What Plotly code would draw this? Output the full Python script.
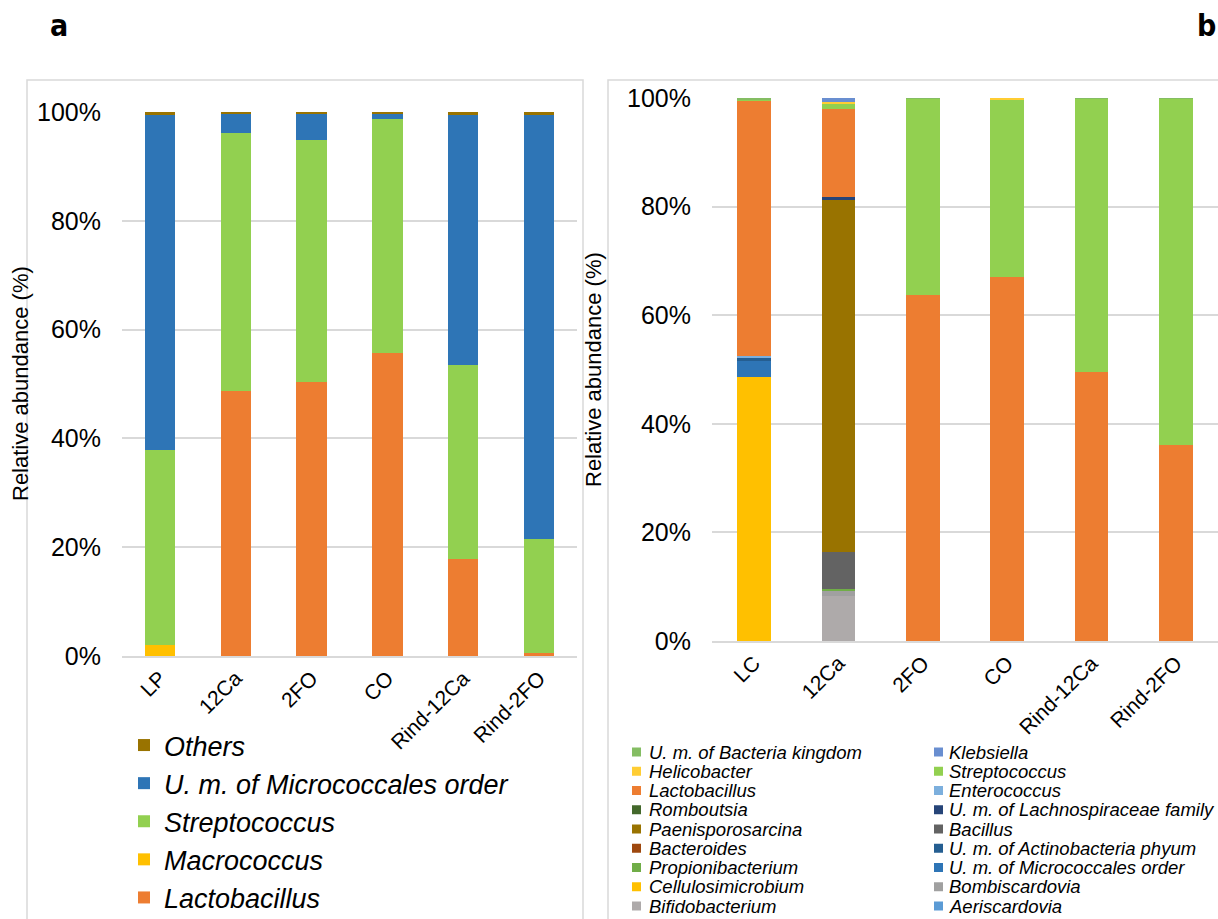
import plotly.graph_objects as go

W, H = 1218, 919
FONT = "Liberation Sans, Arial, sans-serif"

# ---------------- panel a data (relative abundance, %) ----------------
samples_a = ["LP", "12Ca", "2FO", "CO", "Rind-12Ca", "Rind-2FO"]
lactobacillus_a = [0.0, 48.7, 50.4, 55.7, 17.8, 0.6]
macrococcus_a = [2.0, 0.0, 0.0, 0.0, 0.0, 0.0]
streptococcus_a = [35.9, 47.4, 44.4, 43.0, 35.7, 21.0]
micrococcales_a = [61.5, 3.5, 4.8, 0.9, 45.9, 77.9]
others_a = [0.6, 0.4, 0.4, 0.4, 0.6, 0.5]

# ---------------- panel b data (relative abundance, %) ----------------
samples_b = ["LC", "12Ca", "2FO", "CO", "Rind-12Ca", "Rind-2FO"]
aeriscardovia = [0, 0, 0, 0, 0, 0]
bifidobacterium = [0, 8.3, 0, 0, 0, 0]
bombiscardovia = [0, 1.0, 0, 0, 0, 0]
cellulosimicrobium = [48.6, 0, 0, 0, 0, 0]
micrococcales_b = [3.0, 0, 0, 0, 0, 0]
propionibacterium = [0, 0.2, 0, 0, 0, 0]
actinobacteria = [0.7, 0, 0, 0, 0, 0]
bacteroides = [0, 0, 0, 0, 0, 0]
bacillus = [0, 6.9, 0, 0, 0, 0]
paenisporosarcina = [0, 64.9, 0, 0, 0, 0]
lachnospiraceae = [0, 0.4, 0, 0, 0, 0]
romboutsia = [0, 0, 0, 0, 0, 0]
enterococcus = [0.2, 0, 0, 0, 0, 0]
lactobacillus_b = [47.0, 16.2, 63.7, 67.0, 49.5, 36.1]
streptococcus_b = [0.3, 1.0, 36.2, 32.8, 50.4, 63.8]
helicobacter = [0, 0.4, 0, 0.2, 0, 0]
klebsiella = [0, 0.7, 0, 0, 0, 0]
bacteria_kingdom = [0.2, 0, 0.1, 0, 0.1, 0.1]

# stacking order, bottom to top
series_a = [
    ("Lactobacillus", lactobacillus_a, "#ED7D31"),
    ("Macrococcus", macrococcus_a, "#FFC000"),
    ("Streptococcus", streptococcus_a, "#92D050"),
    ("U. m. of Micrococcales order", micrococcales_a, "#2E75B6"),
    ("Others", others_a, "#997300"),
]

series_b = [
    ("Aeriscardovia", aeriscardovia, "#5B9BD5"),
    ("Bifidobacterium", bifidobacterium, "#AEAAAA"),
    ("Bombiscardovia", bombiscardovia, "#A0A0A0"),
    ("Cellulosimicrobium", cellulosimicrobium, "#FFC000"),
    ("U. m. of Micrococcales order", micrococcales_b, "#2E75B6"),
    ("Propionibacterium", propionibacterium, "#70AD47"),
    ("U. m. of Actinobacteria phyum", actinobacteria, "#255E91"),
    ("Bacteroides", bacteroides, "#9E480E"),
    ("Bacillus", bacillus, "#636363"),
    ("Paenisporosarcina", paenisporosarcina, "#997300"),
    ("U. m. of Lachnospiraceae family", lachnospiraceae, "#264478"),
    ("Romboutsia", romboutsia, "#43682B"),
    ("Enterococcus", enterococcus, "#7CAFDD"),
    ("Lactobacillus", lactobacillus_b, "#ED7D31"),
    ("Streptococcus", streptococcus_b, "#92D050"),
    ("Helicobacter", helicobacter, "#FFCD33"),
    ("Klebsiella", klebsiella, "#698ED0"),
    ("U. m. of Bacteria kingdom", bacteria_kingdom, "#84BD63"),
]

fig = go.Figure()

for name, vals, color in series_a:
    fig.add_trace(go.Bar(
        x=samples_a, y=vals, name=name, marker=dict(color=color, line=dict(width=0)),
        xaxis="x", yaxis="y", legend="legend",
    ))

for name, vals, color in series_b:
    fig.add_trace(go.Bar(
        x=samples_b, y=vals, name=name, marker=dict(color=color, line=dict(width=0)),
        xaxis="x2", yaxis="y2", showlegend=False,
    ))


def px_x(p):
    return p / W


def px_y(p):
    return 1 - p / H


grid = "#D9D9D9"
tick_font = dict(family=FONT, size=25, color="#000000")
xtick_font = dict(family=FONT, size=21, color="#000000")

axis_common_y = dict(
    range=[0, 100], dtick=20, ticksuffix="%", showgrid=True, gridcolor=grid,
    gridwidth=1.5, zeroline=False, showline=False, tickfont=tick_font,
    ticklabelstandoff=20, fixedrange=True,
)
axis_common_x = dict(
    type="category", range=[-0.5, 5.5], showline=True, linecolor=grid, linewidth=1.5,
    showgrid=False, tickangle=-45, tickfont=xtick_font, ticks="",
)

fig.update_layout(
    width=W, height=H,
    margin=dict(l=0, r=0, t=0, b=0, autoexpand=False),
    paper_bgcolor="white", plot_bgcolor="white",
    barmode="stack", bargap=0.6,
    font=dict(family=FONT, color="#000000"),
    xaxis=dict(domain=[px_x(122), px_x(577)], anchor="y", **axis_common_x),
    yaxis=dict(domain=[px_y(656), px_y(112)], anchor="x", **axis_common_y),
    xaxis2=dict(domain=[px_x(712), 1.0], anchor="y2", **axis_common_x),
    yaxis2=dict(domain=[px_y(641), px_y(98)], anchor="x2", **axis_common_y),
    legend=dict(
        x=px_x(124), y=px_y(721), xanchor="left", yanchor="top",
        traceorder="reversed", bgcolor="rgba(0,0,0,0)",
        font=dict(family=FONT, size=27, style="italic", color="#000000"),
    ),
)

shapes = [
    # chart-area frames
    dict(type="rect", xref="paper", yref="paper", x0=px_x(27), x1=px_x(583),
         y0=-0.02, y1=px_y(80), line=dict(color=grid, width=1.5), layer="below"),
    dict(type="rect", xref="paper", yref="paper", x0=px_x(608), x1=1.02,
         y0=-0.02, y1=px_y(80), line=dict(color=grid, width=1.5), layer="below"),
]

annotations = [
    dict(text="<b>a</b>", x=px_x(48), y=px_y(25), xref="paper", yref="paper",
         xanchor="left", yanchor="middle", showarrow=False,
         font=dict(family="Liberation Sans Narrow, DejaVu Sans Condensed, sans-serif", size=30)),
    dict(text="<b>b</b>", x=px_x(1195), y=px_y(25), xref="paper", yref="paper",
         xanchor="left", yanchor="middle", showarrow=False,
         font=dict(family="Liberation Sans Narrow, DejaVu Sans Condensed, sans-serif", size=30)),
    dict(text="Relative abundance (%)", x=px_x(20), y=px_y(384), xref="paper", yref="paper",
         textangle=-90, showarrow=False, xanchor="center", yanchor="middle",
         font=dict(family=FONT, size=22)),
    dict(text="Relative abundance (%)", x=px_x(593), y=px_y(370), xref="paper", yref="paper",
         textangle=-90, showarrow=False, xanchor="center", yanchor="middle",
         font=dict(family=FONT, size=22)),
]

# two-column key for panel b, listed top of stack first, filled row by row
key_entries = list(reversed(series_b))
col_square_x = [632, 934]
col_text_x = [647, 947]
row_y0, row_step = 752, 19.25
for i, (name, _, color) in enumerate(key_entries):
    col, row = i % 2, i // 2
    yc = row_y0 + row * row_step
    shapes.append(dict(
        type="rect", xref="paper", yref="paper",
        x0=px_x(col_square_x[col]), x1=px_x(col_square_x[col] + 9),
        y0=px_y(yc + 4.5), y1=px_y(yc - 4.5),
        fillcolor=color, line=dict(width=0),
    ))
    annotations.append(dict(
        text=name, x=px_x(col_text_x[col]), y=px_y(yc), xref="paper", yref="paper",
        xanchor="left", yanchor="middle", showarrow=False,
        font=dict(family=FONT, size=18.5, style="italic", color="#000000"),
    ))

fig.update_layout(shapes=shapes, annotations=annotations)

fig.write_html("out.html")
